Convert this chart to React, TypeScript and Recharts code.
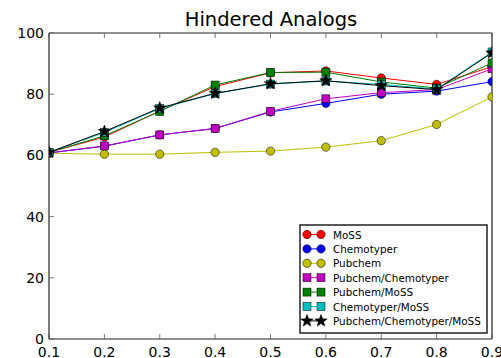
import React from "react";
import { LineChart, Line, XAxis, YAxis } from "recharts";

const xs = [0.1, 0.2, 0.3, 0.4, 0.5, 0.6, 0.7, 0.8, 0.9];
const moss = [61.0, 66.0, 74.5, 82.5, 87.0, 87.6, 85.3, 83.2, 89.0];
const chemotyper = [60.8, 63.0, 66.7, 68.8, 74.2, 77.0, 80.0, 81.0, 84.1];
const pubchem = [60.7, 60.4, 60.4, 61.0, 61.4, 62.7, 64.8, 70.1, 79.1];
const pubChemo = [60.8, 63.1, 66.7, 68.8, 74.4, 78.5, 80.5, 81.5, 88.3];
const pubMoss = [61.0, 66.4, 74.4, 83.0, 87.1, 87.2, 84.0, 82.0, 90.2];
const chemoMoss = [61.0, 67.5, 75.3, 80.2, 83.3, 84.3, 83.2, 81.7, 93.8];
const allThree = [61.0, 67.8, 75.5, 80.3, 83.4, 84.4, 82.8, 81.5, 93.5];

const xTicks = [0.1, 0.2, 0.3, 0.4, 0.5, 0.6, 0.7, 0.8, 0.9];
const yTicks = [0, 20, 40, 60, 80, 100];

type Marker = "circle" | "square" | "star";
const series: { key: string; name: string; color: string; marker: Marker; values: number[] }[] = [
  { key: "moss", name: "MoSS", color: "#ff0000", marker: "circle", values: moss },
  { key: "chemotyper", name: "Chemotyper", color: "#0000ff", marker: "circle", values: chemotyper },
  { key: "pubchem", name: "Pubchem", color: "#bfbf00", marker: "circle", values: pubchem },
  { key: "pubChemo", name: "Pubchem/Chemotyper", color: "#bf00bf", marker: "square", values: pubChemo },
  { key: "pubMoss", name: "Pubchem/MoSS", color: "#008000", marker: "square", values: pubMoss },
  { key: "chemoMoss", name: "Chemotyper/MoSS", color: "#00bfbf", marker: "square", values: chemoMoss },
  { key: "allThree", name: "Pubchem/Chemotyper/MoSS", color: "#000000", marker: "star", values: allThree },
];

const data = xs.map((x, i) => {
  const row: Record<string, number> = { x };
  series.forEach((s) => (row[s.key] = s.values[i]));
  return row;
});

const FONT = "DejaVu Sans";

function starPoints(cx: number, cy: number, ro: number, ri: number) {
  const pts: string[] = [];
  for (let k = 0; k < 10; k++) {
    const r = k % 2 === 0 ? ro : ri;
    const a = -Math.PI / 2 + (k * Math.PI) / 5;
    pts.push(`${cx + r * Math.cos(a)},${cy + r * Math.sin(a)}`);
  }
  return pts.join(" ");
}

function drawMarker(marker: Marker, color: string, cx: number, cy: number, key?: string | number) {
  if (marker === "circle")
    return <circle key={key} cx={cx} cy={cy} r={4.2} fill={color} stroke="#000" strokeWidth={0.5} />;
  if (marker === "square")
    return <rect key={key} x={cx - 4} y={cy - 4} width={8} height={8} fill={color} stroke="#000" strokeWidth={0.5} />;
  return <polygon key={key} points={starPoints(cx, cy, 6.5, 2.7)} fill={color} stroke="#000" strokeWidth={0.5} />;
}

const makeDot = (marker: Marker, color: string) => (props: any) => {
  const { cx, cy, index } = props;
  if (cx == null || cy == null) return <g key={index} />;
  return drawMarker(marker, color, cx, cy, index);
};

const XTickBottom = (props: any) => {
  const { x, y, payload } = props;
  return (
    <g>
      <line x1={x} y1={y} x2={x} y2={y - 5} stroke="#555" strokeWidth={0.8} />
      <text x={x} y={y + 18} textAnchor="middle" fontSize={14} fontFamily={FONT} fill="#000">
        {Number(payload.value).toFixed(1)}
      </text>
    </g>
  );
};

const XTickTop = (props: any) => {
  const { x, y } = props;
  return <line x1={x} y1={y} x2={x} y2={y + 5} stroke="#555" strokeWidth={0.8} />;
};

const YTickLeft = (props: any) => {
  const { x, y, payload } = props;
  return (
    <g>
      <line x1={x} y1={y} x2={x + 5} y2={y} stroke="#555" strokeWidth={0.8} />
      <text x={x - 5} y={y + 5} textAnchor="end" fontSize={14} fontFamily={FONT} fill="#000">
        {payload.value}
      </text>
    </g>
  );
};

const YTickRight = (props: any) => {
  const { x, y } = props;
  return <line x1={x} y1={y} x2={x - 5} y2={y} stroke="#555" strokeWidth={0.8} />;
};

export default function App() {
  const legendLeft = 300;
  const legendTop = 225;
  const rowH = 14.4;
  return (
    <div style={{ position: "absolute", left: 0, top: 0, width: 501, height: 358, background: "#fff" }}>
      <LineChart
        width={501}
        height={358}
        data={data}
        margin={{ top: 32, right: 8, bottom: 18, left: 48 }}
      >
        <XAxis
          dataKey="x"
          type="number"
          domain={[0.1, 0.9]}
          ticks={xTicks}
          height={1}
          tickSize={0}
          tickMargin={0}
          allowDataOverflow
          axisLine={{ stroke: "#222", strokeWidth: 1.2 }}
          tickLine={false}
          tick={<XTickBottom />}
          interval={0}
        />
        <XAxis
          xAxisId="top"
          orientation="top"
          dataKey="x"
          type="number"
          domain={[0.1, 0.9]}
          ticks={xTicks}
          height={1}
          tickSize={0}
          tickMargin={0}
          axisLine={{ stroke: "#222", strokeWidth: 1.2 }}
          tickLine={false}
          tick={<XTickTop />}
          interval={0}
        />
        <YAxis
          type="number"
          domain={[0, 100]}
          ticks={yTicks}
          width={1}
          tickSize={0}
          tickMargin={0}
          allowDataOverflow
          axisLine={{ stroke: "#222", strokeWidth: 1.2 }}
          tickLine={false}
          tick={<YTickLeft />}
          interval={0}
        />
        <YAxis
          yAxisId="right"
          orientation="right"
          type="number"
          domain={[0, 100]}
          ticks={yTicks}
          width={1}
          tickSize={0}
          tickMargin={0}
          axisLine={{ stroke: "#222", strokeWidth: 1.2 }}
          tickLine={false}
          tick={<YTickRight />}
          interval={0}
        />
        {series.map((s) => (
          <Line
            key={s.key}
            dataKey={s.key}
            name={s.name}
            stroke={s.color}
            strokeWidth={1}
            dot={makeDot(s.marker, s.color)}
            activeDot={false}
            isAnimationActive={false}
            type="linear"
          />
        ))}
      </LineChart>
      <svg
        width={501}
        height={358}
        style={{ position: "absolute", left: 0, top: 0, pointerEvents: "none" }}
      >
        <text x={271} y={26} textAnchor="middle" fontSize={19.5} fontFamily={FONT} fill="#000">
          Hindered Analogs
        </text>
        <rect
          x={legendLeft}
          y={legendTop}
          width={187}
          height={108}
          fill="#fff"
          stroke="#222"
          strokeWidth={1.5}
        />
        {series.map((s, i) => {
          const cy = legendTop + 9.5 + i * rowH;
          return (
            <g key={s.key}>
              <line x1={307} y1={cy} x2={321} y2={cy} stroke={s.color} strokeWidth={1} />
              {drawMarker(s.marker, s.color, 307, cy)}
              {drawMarker(s.marker, s.color, 321, cy)}
              <text x={333} y={cy + 4} fontSize={10.4} fontFamily={FONT} fill="#000">
                {s.name}
              </text>
            </g>
          );
        })}
      </svg>
    </div>
  );
}
